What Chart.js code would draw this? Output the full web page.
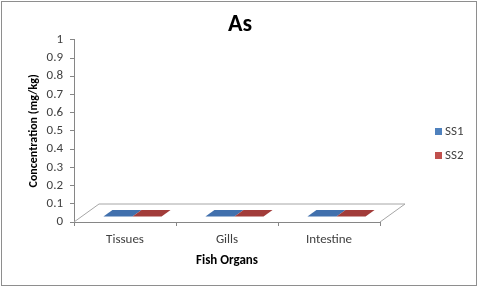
<!DOCTYPE html>
<html lang="en">
<head>
    <meta charset="UTF-8">
    <title>As - Fish Organs</title>
    <script src="https://cdn.jsdelivr.net/npm/chart.js"></script>
    <style>
        * { margin: 0; padding: 0; box-sizing: border-box; }
        body { background: white; }
        .chart-box { width: 480px; height: 288px; position: relative; }
    </style>
</head>
<body>
    <div class="chart-box">
        <canvas id="asChart"></canvas>
    </div>

    <script>
        // data (all bars sit on the floor)
        const categories = ['Tissues', 'Gills', 'Intestine'];
        const seriesNames = ['SS1', 'SS2'];
        const ss1Values = [0, 0, 0];
        const ss2Values = [0, 0, 0];
        const yMin = 0;
        const yMax = 1;
        const yStep = 0.1;

        const legendColors = ['#4F81BD', '#C0504D'];
        const topColors = ['#4170AD', '#A23C3A'];

        // fake 3D: depth of the floor and where the bars sit inside it
        const DX = 25, DY = 18;
        const F1 = 0.3, F2 = 0.66;

        const floor3d = {
            id: 'floor3d',
            beforeDraw(chart) {
                const ctx = chart.ctx;
                ctx.save();
                ctx.strokeStyle = '#8e8e8e';
                ctx.lineWidth = 1;
                ctx.strokeRect(1.5, 1.5, 475, 284);
                ctx.restore();
            },
            beforeDatasetsDraw(chart) {
                const ctx = chart.ctx;
                const area = chart.chartArea;
                const y0 = chart.scales.y.getPixelForValue(0);
                ctx.save();
                ctx.strokeStyle = '#a6a6a6';
                ctx.lineWidth = 1;
                ctx.beginPath();
                ctx.moveTo(area.left, y0);
                ctx.lineTo(area.left + DX, y0 - DY);
                ctx.lineTo(area.right + DX, y0 - DY);
                ctx.lineTo(area.right, y0);
                ctx.stroke();
                ctx.restore();
            },
            afterDatasetsDraw(chart) {
                const ctx = chart.ctx;
                ctx.save();
                chart.data.datasets.forEach((ds, i) => {
                    const meta = chart.getDatasetMeta(i);
                    meta.data.forEach(bar => {
                        const x0 = bar.x - bar.width / 2;
                        const x1 = bar.x + bar.width / 2;
                        const top = bar.y;
                        // front face, only shows when the value is above 0
                        if (bar.base - top > 0.5) {
                            ctx.fillStyle = legendColors[i];
                            ctx.fillRect(x0 + F1 * DX, top - F1 * DY, bar.width, bar.base - top);
                        }
                        ctx.fillStyle = topColors[i];
                        ctx.beginPath();
                        ctx.moveTo(x0 + F1 * DX, top - F1 * DY);
                        ctx.lineTo(x1 + F1 * DX, top - F1 * DY);
                        ctx.lineTo(x1 + F2 * DX, top - F2 * DY);
                        ctx.lineTo(x0 + F2 * DX, top - F2 * DY);
                        ctx.closePath();
                        ctx.fill();
                    });
                });
                ctx.restore();
            },
            afterDraw(chart) {
                // legend on the right, Excel style
                const ctx = chart.ctx;
                ctx.save();
                ctx.font = '13px Carlito, Lato, sans-serif';
                ctx.textBaseline = 'middle';
                chart.data.datasets.forEach((ds, i) => {
                    const y = 128 + i * 24;
                    ctx.fillStyle = ds.backgroundColor;
                    ctx.fillRect(435, y, 7, 7);
                    ctx.fillStyle = '#404040';
                    ctx.fillText(ds.label, 445, y + 4);
                });
                ctx.restore();
            }
        };

        Chart.defaults.font.family = 'Carlito, Lato, sans-serif';

        new Chart(document.getElementById('asChart'), {
            type: 'bar',
            data: {
                labels: categories,
                datasets: [
                    { label: seriesNames[0], data: ss1Values, backgroundColor: legendColors[0], borderWidth: 0 },
                    { label: seriesNames[1], data: ss2Values, backgroundColor: legendColors[1], borderWidth: 0 }
                ]
            },
            options: {
                responsive: true,
                maintainAspectRatio: false,
                animation: false,
                layout: { padding: 0 },
                datasets: { bar: { categoryPercentage: 0.57, barPercentage: 1 } },
                plugins: {
                    legend: { display: false },
                    tooltip: { enabled: false },
                    title: {
                        display: true,
                        text: 'As',
                        color: '#000',
                        font: { size: 24, weight: 'bold' },
                        padding: { top: 11, bottom: 0 }
                    }
                },
                scales: {
                    x: {
                        grid: { offset: true, drawOnChartArea: false, drawTicks: true, tickLength: 4, color: '#868686' },
                        border: { display: true, color: '#868686' },
                        ticks: { color: '#404040', font: { size: 13 }, padding: 6 },
                        title: {
                            display: true,
                            text: 'Fish Organs',
                            color: '#000',
                            font: { size: 13, weight: 'bold' },
                            padding: { top: 0, bottom: 19 }
                        },
                        afterFit(scale) { scale.height = 66; }
                    },
                    y: {
                        min: yMin,
                        max: yMax,
                        grid: { drawOnChartArea: false, drawTicks: true, tickLength: 4, color: '#868686' },
                        border: { display: true, color: '#868686' },
                        ticks: {
                            stepSize: yStep,
                            autoSkip: false,
                            color: '#404040',
                            font: { size: 13 },
                            padding: 7,
                            callback: v => String(Number(v.toFixed(1)))
                        },
                        title: {
                            display: true,
                            text: 'Concentration (mg/kg)',
                            color: '#000',
                            font: { size: 12, weight: 'bold' },
                            padding: { top: 27, bottom: 0 }
                        },
                        afterFit(scale) { scale.width = 74; }
                    },
                    // empty axis that only keeps room on the right for the legend
                    side: {
                        type: 'linear',
                        position: 'right',
                        display: true,
                        grid: { display: false },
                        border: { display: false },
                        ticks: { display: false },
                        afterFit(scale) { scale.width = 100; }
                    }
                }
            },
            plugins: [floor3d]
        });
    </script>
</body>
</html>
